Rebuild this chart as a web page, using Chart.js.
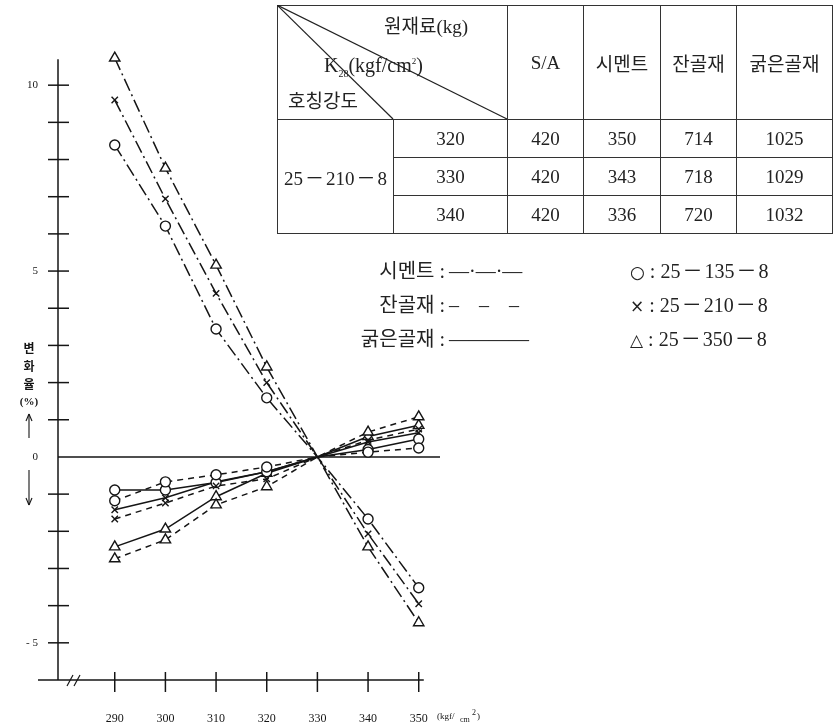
<!DOCTYPE html>
<html lang="ko">
<head>
<meta charset="UTF-8">
<title>변화율</title>
<script src="https://cdn.jsdelivr.net/npm/chart.js"></script>
<style>
    body { margin: 0; background: #fff; }
    #wrap { position: relative; width: 836px; height: 728px; }
    #chart { position: absolute; left: 0; top: 0; }
    .serif { font-family: "Liberation Serif", "Noto Sans CJK KR", serif; color: #222; }
    #tbl {
        position: absolute; left: 277px; top: 5px;
        border-collapse: collapse; font-size: 19px;
    }
    #tbl td { border: 1px solid #333; text-align: center; padding: 0; }
    #tbl .hd td { height: 113px; }
    #tbl .row td { height: 37px; }
    #diag { position: absolute; left: 277px; top: 5px; }
    .lbl { position: absolute; font-size: 19px; white-space: nowrap; line-height: 1; }
    .leg { position: absolute; font-size: 20px; white-space: nowrap; line-height: 1; }
    .sym { font-family: "DejaVu Sans", sans-serif; font-size: 17px; }
    .dh { display: inline-block; margin: 0 2px; }
    .gap { display: inline-block; width: 20px; }
</style>
</head>
<body>
<div id="wrap" class="serif">
    <canvas id="chart" width="836" height="728"></canvas>

    <table id="tbl" class="serif">
        <colgroup>
            <col style="width:116px"><col style="width:114px"><col style="width:76px">
            <col style="width:77px"><col style="width:76px"><col style="width:96px">
        </colgroup>
        <tr class="hd">
            <td colspan="2"></td>
            <td>S/A</td><td>시멘트</td><td>잔골재</td><td>굵은골재</td>
        </tr>
        <tr class="row">
            <td rowspan="3">25<span class="dh">－</span>210<span class="dh">－</span>8</td>
            <td>320</td><td>420</td><td>350</td><td>714</td><td>1025</td>
        </tr>
        <tr class="row">
            <td>330</td><td>420</td><td>343</td><td>718</td><td>1029</td>
        </tr>
        <tr class="row">
            <td>340</td><td>420</td><td>336</td><td>720</td><td>1032</td>
        </tr>
    </table>
    <svg id="diag" width="232" height="116">
        <line x1="0" y1="0" x2="116" y2="114" stroke="#222" stroke-width="1.2"/>
        <line x1="0" y1="0" x2="230" y2="114" stroke="#222" stroke-width="1.2"/>
    </svg>
    <div class="lbl" style="left:384px; top:17px;">원재료(kg)</div>
    <div class="lbl" style="left:324px; top:55px; font-size:20px;">K<sub style="font-size:10px">28</sub>(kgf/cm<sup style="font-size:9px">2</sup>)</div>
    <div class="lbl" style="left:288px; top:92px;">호칭강도</div>

    <div class="leg" style="right:391px; top:261px;">시멘트 :</div>
    <div class="leg" style="left:449px; top:261px;">—·—·—</div>
    <div class="leg" style="right:391px; top:295px;">잔골재 :</div>
    <div class="leg" style="left:449px; top:295px;">–<span class="gap"></span>–<span class="gap"></span>–</div>
    <div class="leg" style="right:391px; top:329px;">굵은골재 :</div>
    <div class="leg" style="left:449px; top:329px;">————</div>

    <div class="leg" style="left:630px; top:261px;"><span class="sym">○</span> : 25<span class="dh">－</span>135<span class="dh">－</span>8</div>
    <div class="leg" style="left:630px; top:295px;"><span class="sym">×</span> : 25<span class="dh">－</span>210<span class="dh">－</span>8</div>
    <div class="leg" style="left:630px; top:329px;"><span class="sym">△</span> : 25<span class="dh">－</span>350<span class="dh">－</span>8</div>
</div>

<script>
    // x: 설계강도 (kgf/cm2)
    const strengths = [290, 300, 310, 320, 330, 340, 350];

    // 시멘트 (dash-dot)
    const cement135 = [8.39, 6.21, 3.44, 1.59, 0, -1.67, -3.52];
    const cement210 = [9.60, 6.94, 4.40, 2.00, 0, -2.07, -3.95];
    const cement350 = [10.73, 7.77, 5.16, 2.42, 0, -2.42, -4.46];

    // 잔골재 (dashed)
    const fine135 = [-1.18, -0.67, -0.48, -0.27, 0, 0.13, 0.24];
    const fine210 = [-1.67, -1.24, -0.78, -0.59, 0, 0.45, 0.75];
    const fine350 = [-2.74, -2.23, -1.29, -0.80, 0, 0.67, 1.08];

    // 굵은골재 (solid)
    const coarse135 = [-0.89, -0.89, -0.69, -0.40, 0, 0.20, 0.48];
    const coarse210 = [-1.42, -1.10, -0.67, -0.40, 0, 0.40, 0.65];
    const coarse350 = [-2.42, -1.94, -1.07, -0.44, 0, 0.55, 0.85];

    const xTicks = [290, 300, 310, 320, 330, 340, 350];
    const yTicks = [-5, 0, 5, 10];
    const yMinor = [-5, -4, -3, -2, -1, 1, 2, 3, 4, 5, 6, 7, 8, 9, 10];

    const INK = '#151515';
    const dashes = { cement: [13, 4, 2, 4], fine: [6, 5], coarse: [] };
    const marks = { 135: 'circle', 210: 'crossRot', 350: 'triangle' };
    const sizes = { 135: 5, 210: 4.5, 350: 6 };

    function series(values, kind, grade) {
        return {
            data: strengths.map((s, i) => ({ x: s, y: values[i] })),
            borderColor: INK,
            borderWidth: 1.5,
            borderDash: dashes[kind],
            pointStyle: marks[grade],
            pointRadius: strengths.map(s => s === 330 ? 0 : sizes[grade]),
            pointBorderWidth: 1.4,
            pointBorderColor: INK,
            pointBackgroundColor: '#fff',
            tension: 0,
            fill: false
        };
    }

    const datasets = [
        series(cement135, 'cement', 135), series(cement210, 'cement', 210), series(cement350, 'cement', 350),
        series(fine135, 'fine', 135), series(fine210, 'fine', 210), series(fine350, 'fine', 350),
        series(coarse135, 'coarse', 135), series(coarse210, 'coarse', 210), series(coarse350, 'coarse', 350)
    ];

    // axis lines, crossing tick marks and the y title
    const frame = {
        id: 'frame',
        beforeDatasetsDraw(chart) {
            const { ctx, chartArea, scales: { x, y } } = chart;
            const ln = (a, b, c, d) => { ctx.beginPath(); ctx.moveTo(a, b); ctx.lineTo(c, d); ctx.stroke(); };
            ctx.save();
            ctx.strokeStyle = INK;
            ctx.lineWidth = 1.5;
            const x0 = chartArea.left;
            const yb = y.getPixelForValue(-6);
            const yz = y.getPixelForValue(0);

            ln(x0, y.getPixelForValue(10.7), x0, yb);
            yMinor.forEach(v => { const p = y.getPixelForValue(v); ln(x0 - 10, p, x0 + 11, p); });

            ln(x0 - 20, yb, x.getPixelForValue(351), yb);
            xTicks.forEach(v => { const p = x.getPixelForValue(v); ln(p, yb - 8, p, yb + 12); });
            ctx.lineWidth = 1.2;
            ln(x0 + 9, yb + 6, x0 + 15, yb - 5);
            ln(x0 + 16, yb + 6, x0 + 22, yb - 5);

            ctx.lineWidth = 1.4;
            ln(x0, yz, chartArea.right, yz);

            // y title
            ctx.fillStyle = INK;
            ctx.textAlign = 'center';
            ctx.textBaseline = 'middle';
            ctx.font = 'bold 12px "Noto Sans CJK KR"';
            ['변', '화', '율'].forEach((c, i) => ctx.fillText(c, 29, 348 + i * 18));
            ctx.font = 'bold 11px "Liberation Serif"';
            ctx.fillText('(%)', 29, 402);
            ctx.lineWidth = 1.1;
            ln(29, 414, 29, 438);
            ln(29, 414, 26, 421); ln(29, 414, 32, 421);
            ln(29, 470, 29, 505);
            ln(29, 505, 26, 498); ln(29, 505, 32, 498);

            // x unit
            ctx.textAlign = 'left';
            ctx.font = '9px "Liberation Serif"';
            ctx.fillText('(kgf/', 437, 717);
            ctx.font = '8px "Liberation Serif"';
            ctx.fillText('cm', 460, 720);
            ctx.fillText('2', 472, 713);
            ctx.font = '9px "Liberation Serif"';
            ctx.fillText(')', 477, 717);
            ctx.restore();
        }
    };

    new Chart(document.getElementById('chart'), {
        type: 'line',
        data: { datasets },
        plugins: [frame],
        options: {
            responsive: false,
            animation: false,
            events: [],
            layout: { padding: { left: 0, top: 48, right: 396, bottom: 0 } },
            plugins: { legend: { display: false }, tooltip: { enabled: false } },
            scales: {
                x: {
                    type: 'linear', min: 278.8, max: 354.2,
                    afterBuildTicks: s => { s.ticks = xTicks.map(v => ({ value: v })); },
                    afterFit: s => { s.height = 48; },
                    grid: { display: false, drawTicks: false },
                    border: { display: false },
                    ticks: {
                        padding: 32, color: INK,
                        font: { family: 'Liberation Serif', size: 12 },
                        callback: v => String(v)
                    }
                },
                y: {
                    type: 'linear', min: -6, max: 11,
                    afterBuildTicks: s => { s.ticks = yTicks.map(v => ({ value: v })); },
                    afterFit: s => { s.width = 58; },
                    grid: { display: false, drawTicks: false },
                    border: { display: false },
                    ticks: {
                        padding: 20, color: INK,
                        font: { family: 'Liberation Serif', size: 11 },
                        callback: v => v < 0 ? '- ' + Math.abs(v) : String(v)
                    }
                }
            }
        }
    });
</script>
</body>
</html>
